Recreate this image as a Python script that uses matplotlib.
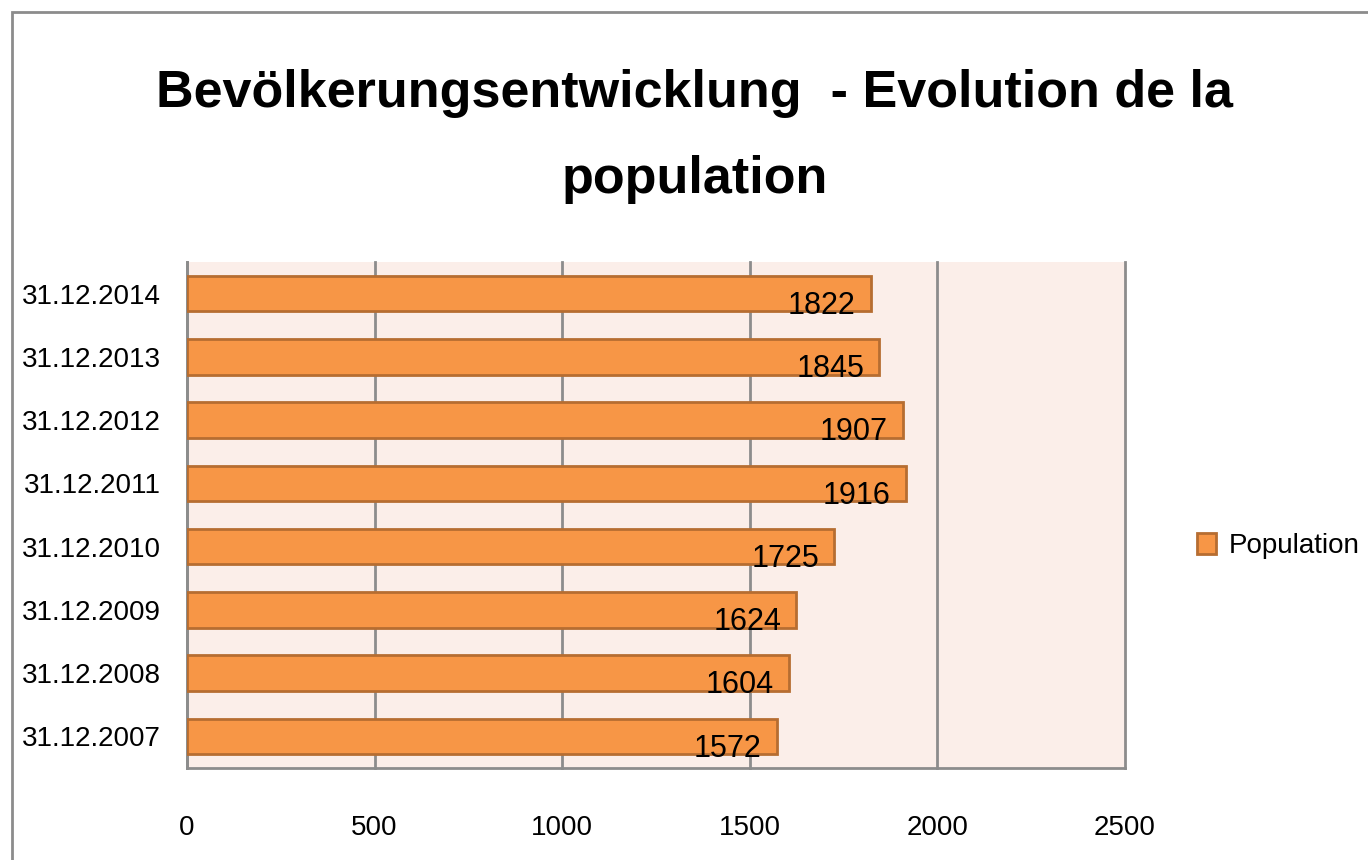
import matplotlib
matplotlib.use('Agg')
import matplotlib.pyplot as plt
from matplotlib.patches import Rectangle

dates = ['31.12.2007', '31.12.2008', '31.12.2009', '31.12.2010',
         '31.12.2011', '31.12.2012', '31.12.2013', '31.12.2014']
population = [1572, 1604, 1624, 1725, 1916, 1907, 1845, 1822]
xticks = [0, 500, 1000, 1500, 2000, 2500]

FONT = ['Liberation Sans', 'DejaVu Sans']

fig = plt.figure(figsize=(13.68, 8.6), dpi=100)
# outer chart frame
fig.patches.append(Rectangle((12 / 1368, -0.1), 1.2, 1 - 12 / 860 + 0.1,
                             transform=fig.transFigure, fill=False,
                             edgecolor='#8c8c8c', linewidth=2))

ax = fig.add_axes([187 / 1368, 1 - 768 / 860, (1125 - 187) / 1368, (768 - 262) / 860])
ax.set_facecolor('#FBEEE9')

bars = ax.barh(range(len(dates)), population, height=0.56,
               color='#F79646', edgecolor='#B66D31', linewidth=2,
               label='Population', zorder=3)

for i, v in enumerate(population):
    ax.text(v - 40, i - 0.32, str(v), ha='right', va='baseline',
            fontsize=22, family=FONT, zorder=4)

ax.set_xlim(0, 2500)
ax.set_ylim(-0.5, len(dates) - 0.5)
ax.set_xticks(xticks)
ax.set_xticklabels([str(t) for t in xticks], fontsize=20, family=FONT)
ax.set_yticks(range(len(dates)))
ax.set_yticklabels(dates, fontsize=20, family=FONT)
ax.tick_params(axis='x', length=0, pad=34)
ax.tick_params(axis='y', length=0, pad=19)
ax.xaxis.grid(True, color='#8c8c8c', linewidth=2, zorder=0)
for gl in ax.get_xgridlines():
    gl.set_clip_on(False)
ax.set_axisbelow(True)
for s in ['top', 'right']:
    ax.spines[s].set_visible(False)
for s in ['left', 'bottom']:
    ax.spines[s].set_color('#8c8c8c')
    ax.spines[s].set_linewidth(2)

fig.text(0.508, 1 - 94 / 860, 'Bevölkerungsentwicklung  - Evolution de la',
         ha='center', va='center', fontsize=37.5, fontweight='bold', family=FONT)
fig.text(0.508, 1 - 180 / 860, 'population',
         ha='center', va='center', fontsize=37.5, fontweight='bold', family=FONT)

leg = fig.legend(handles=[bars], labels=['Population'], loc='center left',
                 bbox_to_anchor=(1197 / 1368, 1 - 546 / 860), frameon=False,
                 borderpad=0, borderaxespad=0,
                 prop={'family': FONT, 'size': 20}, handlelength=0.7,
                 handleheight=0.8, handletextpad=0.45)

fig.savefig('out.png', dpi=100)
